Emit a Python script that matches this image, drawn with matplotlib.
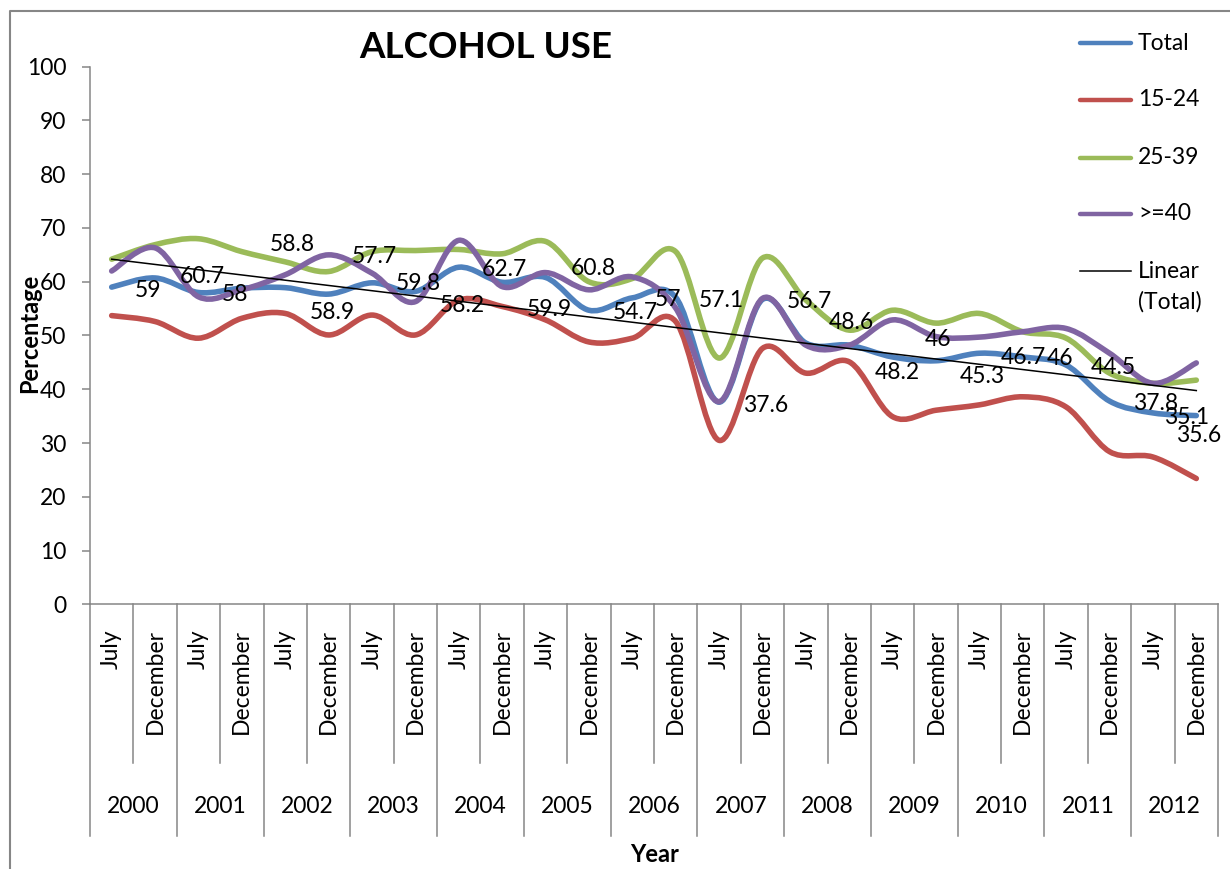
import numpy as np
import matplotlib
matplotlib.use("Agg")
import matplotlib.pyplot as plt
from matplotlib.path import Path
from matplotlib.patches import PathPatch
from matplotlib.lines import Line2D
from matplotlib.transforms import blended_transform_factory

plt.rcParams['font.family'] = ['Lato', 'DejaVu Sans']

# Data:
months = ['July', 'December'] * 13
years = ['2000', '2001', '2002', '2003', '2004', '2005', '2006',
         '2007', '2008', '2009', '2010', '2011', '2012']

total = [59, 60.7, 58, 58.8, 58.9, 57.7, 59.8, 58.2, 62.7, 59.9, 60.8, 54.7, 57,
         57.1, 37.6, 56.7, 48.6, 48.2, 46, 45.3, 46.7, 46, 44.5, 37.8, 35.6, 35.1]
age_15_24 = [53.7, 52.6, 49.5, 53.2, 54.1, 50.1, 53.8, 50.1, 56.6, 55.4, 52.9, 48.8, 49.5,
             52.6, 30.5, 47.6, 43.0, 45.1, 34.9, 36.1, 37.1, 38.6, 36.7, 28.4, 27.4, 23.4]
age_25_39 = [64.2, 66.9, 68.0, 65.6, 63.7, 61.9, 65.6, 65.8, 66.0, 65.2, 67.5, 60.0, 60.6,
             65.6, 45.8, 64.4, 56.6, 51.0, 54.7, 52.3, 54.1, 50.7, 49.5, 43.0, 41.1, 41.7]
age_40_up = [62.0, 66.3, 57.2, 58.5, 61.3, 65.0, 61.6, 56.3, 67.7, 59.1, 61.7, 58.5, 60.9,
             55.1, 37.7, 56.9, 48.2, 48.2, 52.9, 49.8, 49.7, 50.7, 51.3, 46.7, 41.1, 44.9]

series_names = ['Total', '15-24', '25-39', '>=40']
colors = ['#4F81BD', '#C0504D', '#9BBB59', '#8064A2']

# where each Total data label sits, offset from its point in pixels (x right, y up)
label_offsets = [(36, -3), (47, 1), (37, -2), (50, 44), (47, -25), (46, 38), (46, -1),
                 (47, -14), (46, -2), (47, -27), (48, 9), (46, -2), (36, -2), (46, -3),
                 (47, -3), (47, -2), (46, 21), (48, -27), (45, 18), (46, -16), (44, -4),
                 (37, -1), (47, -2), (46, -2), (46, -23), (-10, -2)]

W, H = 1230, 869
GRAY = '#868686'
FS = 16.5


def fx(px):
    return px / W


def fy(py):
    return 1 - py / H


def smooth_path(xs, ys):
    # excel style smoothed line as cubic bezier segments
    n = len(xs)
    verts = [(xs[0], ys[0])]
    codes = [Path.MOVETO]
    for i in range(n - 1):
        a = max(i - 1, 0)
        d = min(i + 2, n - 1)
        c1 = (xs[i] + (xs[i + 1] - xs[a]) / 6, ys[i] + (ys[i + 1] - ys[a]) / 6)
        c2 = (xs[i + 1] - (xs[d] - xs[i]) / 6, ys[i + 1] - (ys[d] - ys[i]) / 6)
        verts += [c1, c2, (xs[i + 1], ys[i + 1])]
        codes += [Path.CURVE4] * 3
    return Path(verts, codes)


fig = plt.figure(figsize=(W / 100, H / 100), dpi=100)
ax = fig.add_axes([fx(90), fy(604.3), fx(1218) - fx(90), fy(66.7) - fy(604.3)])

x = np.arange(len(total))
for vals, c in zip([total, age_15_24, age_25_39, age_40_up], colors):
    ax.add_patch(PathPatch(smooth_path(x, vals), fill=False, edgecolor=c, lw=4.0,
                           capstyle='round', joinstyle='round', zorder=2))

# linear trend of total
slope, icpt = np.polyfit(x, total, 1)
ax.plot([x[0], x[-1]], [icpt + slope * x[0], icpt + slope * x[-1]], color='black', lw=1.1, zorder=3)

for i, v in enumerate(total):
    dx, dy = label_offsets[i]
    ax.annotate('{:g}'.format(v), (i, v), xytext=(dx, dy), textcoords='offset pixels',
                ha='center', va='center', fontsize=FS, zorder=4)

ax.set_xlim(-0.5, len(total) - 0.5)
ax.set_ylim(0, 100)
ax.set_yticks(range(0, 101, 10))
ax.set_xticks([])
ax.tick_params(axis='y', length=6, width=1.1, color=GRAY, pad=11, labelsize=FS)
for s in ['top', 'right']:
    ax.spines[s].set_visible(False)
for s in ['left', 'bottom']:
    ax.spines[s].set_color(GRAY)
    ax.spines[s].set_linewidth(1.1)

# two level category axis
trans = blended_transform_factory(ax.transData, ax.transAxes)
for k in range(len(total) + 1):
    bottom = -0.431 if k % 2 == 0 else -0.295
    ax.plot([k - 0.5, k - 0.5], [0, bottom], color=GRAY, lw=1.1, transform=trans, clip_on=False)
for i, m in enumerate(months):
    ax.text(i, -0.046, m, rotation=90, ha='center', va='top', fontsize=FS, transform=trans)
for j, yr in enumerate(years):
    ax.text(2 * j + 0.5, -0.377, yr, ha='center', va='center', fontsize=FS, transform=trans)

fig.text(fx(486), fy(47), 'ALCOHOL USE', ha='center', va='center', fontsize=26.5, fontweight='bold')
fig.text(fx(30), fy(333), 'Percentage', rotation=90, ha='center', va='center', fontsize=17, fontweight='bold')
fig.text(fx(655), fy(855), 'Year', ha='center', va='center', fontsize=17, fontweight='bold')

# legend
leg_y = [43, 100, 158, 214]
for name, c, py in zip(series_names, colors, leg_y):
    fig.add_artist(Line2D([fx(1080), fx(1131)], [fy(py), fy(py)], color=c, lw=3.2,
                          solid_capstyle='round', transform=fig.transFigure))
    fig.text(fx(1138), fy(py), name, ha='left', va='center', fontsize=FS)
fig.add_artist(Line2D([fx(1080), fx(1131)], [fy(271), fy(271)], color='black', lw=1.1,
                      transform=fig.transFigure))
fig.text(fx(1138), fy(271), 'Linear', ha='left', va='center', fontsize=FS)
fig.text(fx(1138), fy(302), '(Total)', ha='left', va='center', fontsize=FS)

# chart area border
fig.add_artist(Line2D([fx(10), fx(10), 1.0], [0.0, fy(11), fy(11)], color=GRAY, lw=1.5,
                      transform=fig.transFigure))

fig.savefig('out.png', dpi=100)
